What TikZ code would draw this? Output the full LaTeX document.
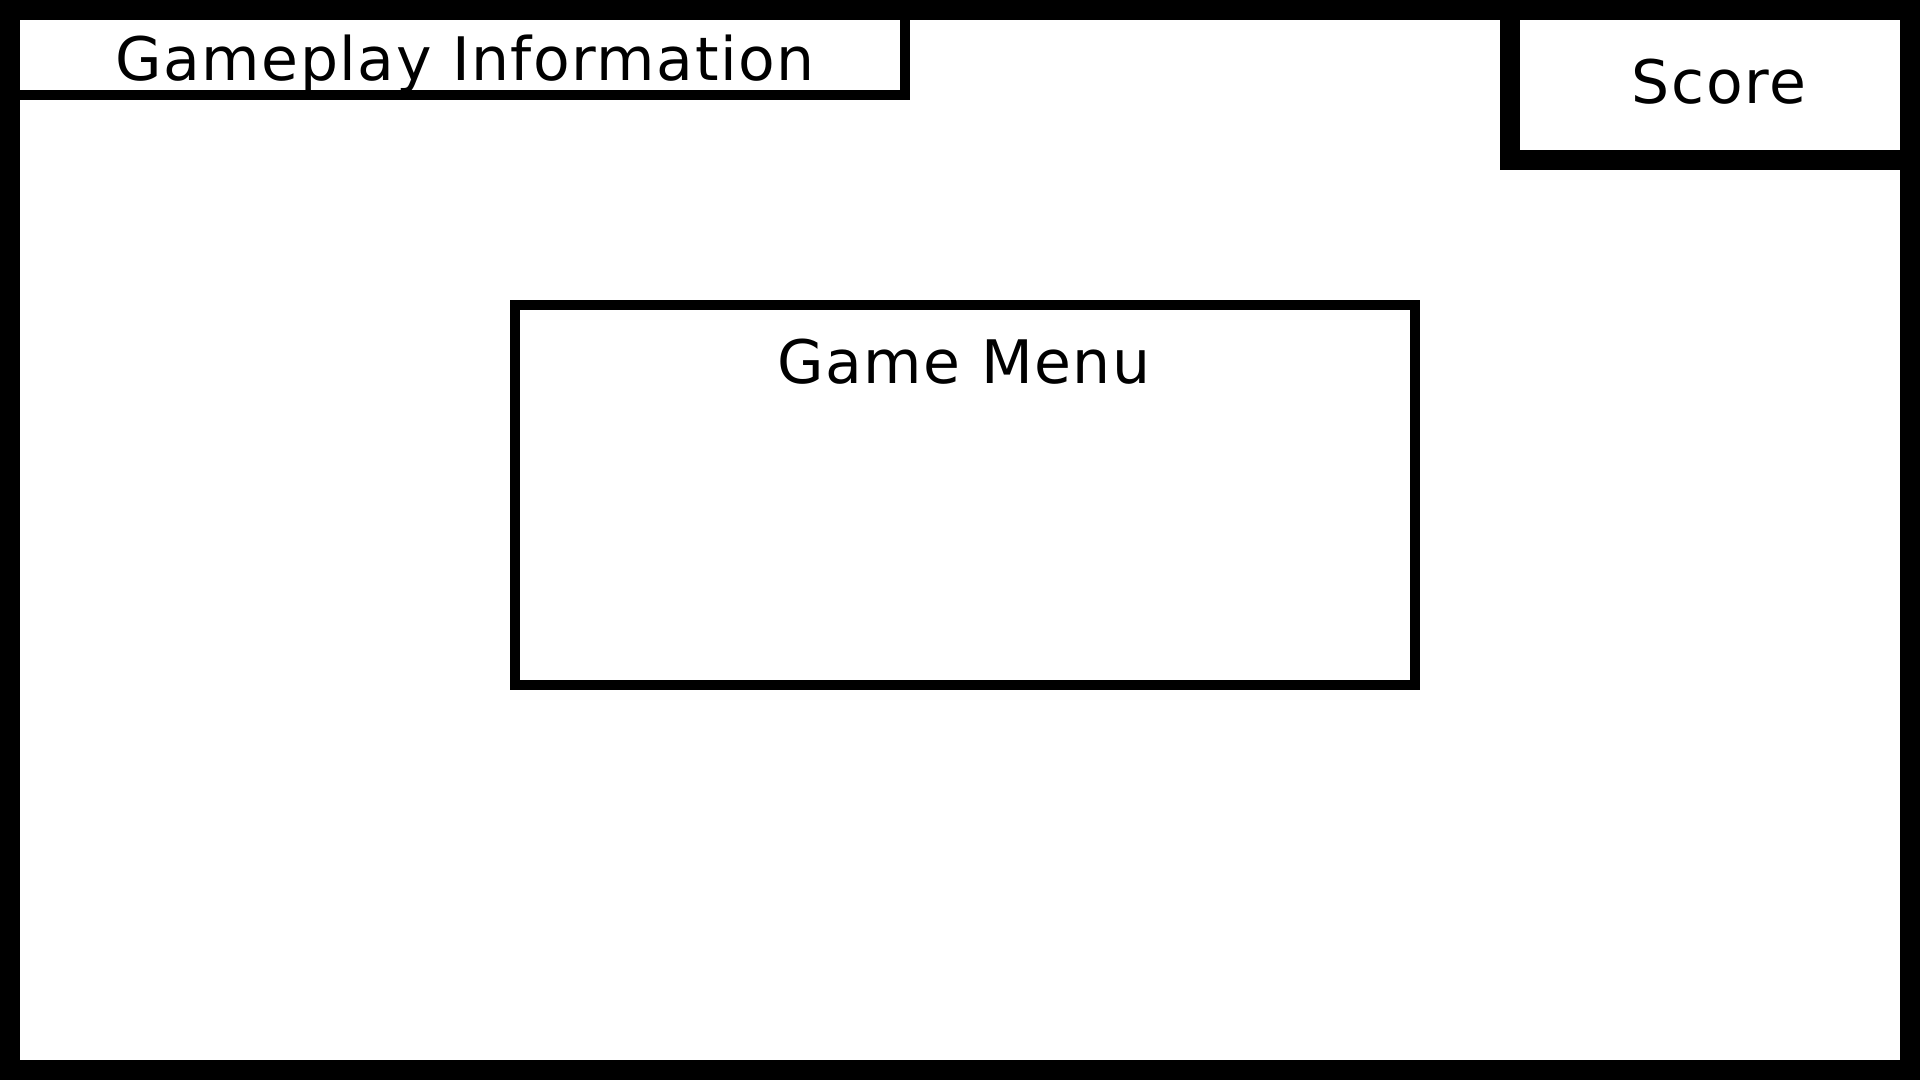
\documentclass[tikz,border=0pt]{standalone}
\usepackage{fontspec}
\setmainfont{DejaVu Sans}[LetterSpace=2.5]
\begin{document}
\begin{tikzpicture}[x=1pt,y=-1pt,
  frame/.style={draw=black, fill=none, rectangle, inner sep=0pt, outer sep=0pt, line join=miter},
  thick frame/.style={frame, line width=20pt},
  thin frame/.style={frame, line width=10pt},
  label text/.style={anchor=base, inner sep=0pt, font=\fontsize{60}{72}\selectfont, text=black}]
\useasboundingbox[fill=white] (0,0) rectangle (1920,1080);
\node[thick frame, minimum width=1900pt, minimum height=1060pt] (screen) at (960,540) {};
\node[thin frame, minimum width=895pt, minimum height=85pt] (info) at (457.5,52.5) {};
\node[thick frame, minimum width=400pt, minimum height=150pt] (score) at (1710,85) {};
\node[thin frame, minimum width=900pt, minimum height=380pt] (menu) at (965,495) {};
\node[label text] (infotext) at (465,80) {Gameplay Information};
\node[label text] (scoretext) at (1719,103) {Score};
\node[label text] (menutext) at (964,383) {Game Menu};
\end{tikzpicture}
\end{document}
